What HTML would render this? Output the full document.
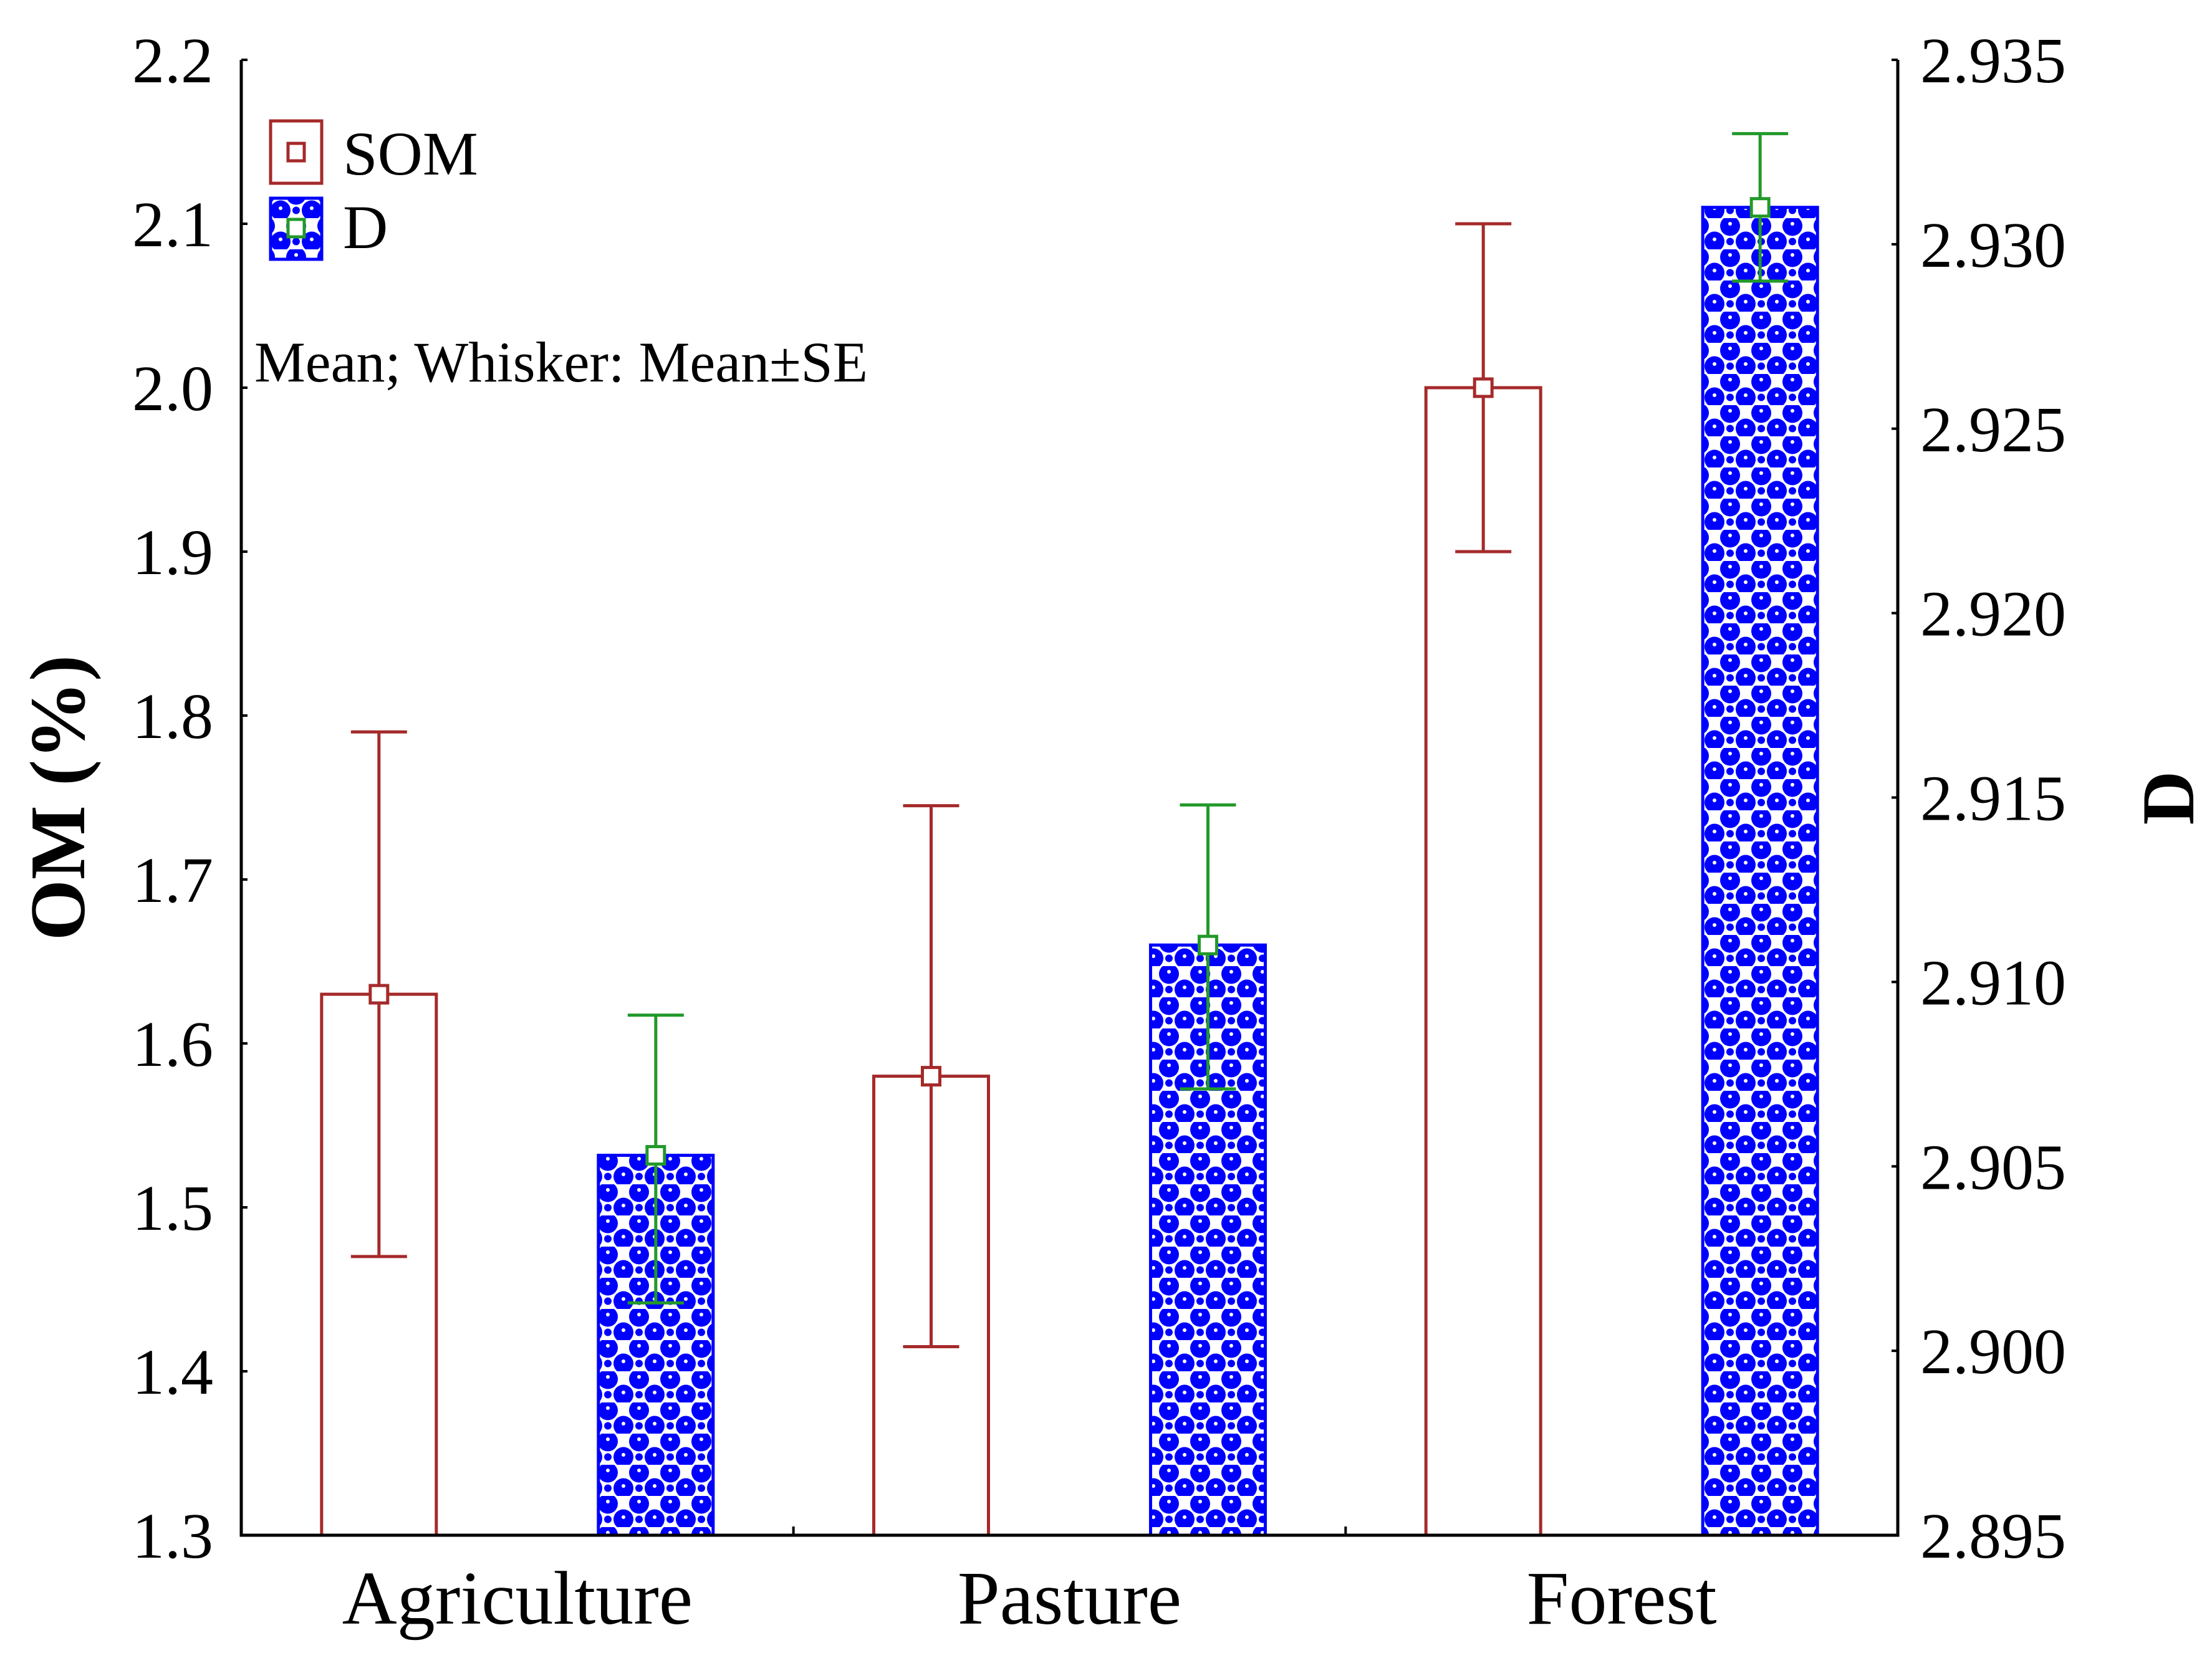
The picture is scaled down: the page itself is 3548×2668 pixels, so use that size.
<!DOCTYPE html>
<html><head><meta charset="utf-8"><style>
html,body{margin:0;padding:0;background:#fff;}
svg{display:block;}
text{font-family:"Liberation Serif",serif;fill:#000;}
</style></head><body>
<svg id="chart" width="3548" height="2668" viewBox="0 0 3548 2668" xmlns="http://www.w3.org/2000/svg">
<defs>
<pattern id="dots" patternUnits="userSpaceOnUse" width="50" height="50">
<rect width="50" height="50" fill="#fff"/>
<circle cx="25" cy="12.5" r="16" fill="#0000ff"/>
<circle cx="0" cy="37.5" r="16" fill="#0000ff"/>
<circle cx="50" cy="37.5" r="16" fill="#0000ff"/>
<circle cx="25" cy="37.5" r="6" fill="#0000ff"/>
<circle cx="25" cy="9" r="3" fill="#fff"/>
<circle cx="0" cy="34" r="3" fill="#fff"/>
<circle cx="50" cy="34" r="3" fill="#fff"/>
</pattern>
</defs>
<g id="plot"></g>
</svg>
<script>
const categories = ["Agriculture", "Pasture", "Forest"];
const somMean = [1.63, 1.58, 2.00];
const somHigh = [1.79, 1.745, 2.10];
const somLow = [1.47, 1.415, 1.90];
const dMean = [2.9053, 2.911, 2.931];
const dHigh = [2.9091, 2.9148, 2.9330];
const dLow = [2.9013, 2.9071, 2.9290];
const leftTicks = ["1.3","1.4","1.5","1.6","1.7","1.8","1.9","2.0","2.1","2.2"];
const rightTicks = ["2.895","2.900","2.905","2.910","2.915","2.920","2.925","2.930","2.935"];

const NS = "http://www.w3.org/2000/svg";
const L = 387, R = 3044, T = 96, B = 2463;
const yL = v => B - (v - 1.3) / 0.9 * (B - T);
const yR = v => B - (v - 2.895) / 0.04 * (B - T);
const catW = (R - L) / 3;
const xC = i => L + catW * (i + 0.5);
const g = document.getElementById('plot');
function el(tag, attrs, parent) {
  const e = document.createElementNS(NS, tag);
  for (const k in attrs) e.setAttribute(k, attrs[k]);
  (parent || g).appendChild(e);
  return e;
}
const BW = 184, OFF = 222, CAP = 90;

categories.forEach((c, i) => {
  const xs = xC(i) - OFF;
  const b1 = el('rect', {x: xs - BW/2, y: yL(somMean[i]), width: BW, height: B - yL(somMean[i]), fill: '#fff', stroke: '#a52a2a', 'stroke-width': 5});
  
  
  const xd = xC(i) + OFF;
  const b2 = el('rect', {x: xd - BW/2, y: yR(dMean[i]), width: BW, height: B - yR(dMean[i]), fill: 'url(#dots)', stroke: '#0000ff', 'stroke-width': 5});
  
  
  const w1 = el('path', {d: `M${xs},${yL(somHigh[i])}V${yL(somLow[i])}M${xs-CAP/2},${yL(somHigh[i])}H${xs+CAP/2}M${xs-CAP/2},${yL(somLow[i])}H${xs+CAP/2}`, stroke: '#a52a2a', 'stroke-width': 5, fill: 'none'});
  
  
  const m1 = el('rect', {x: xs - 14, y: yL(somMean[i]) - 14, width: 28, height: 28, fill: '#fff', stroke: '#a52a2a', 'stroke-width': 5});
  
  
  const w2 = el('path', {d: `M${xd},${yR(dHigh[i])}V${yR(dLow[i])}M${xd-CAP/2},${yR(dHigh[i])}H${xd+CAP/2}M${xd-CAP/2},${yR(dLow[i])}H${xd+CAP/2}`, stroke: '#22992a', 'stroke-width': 5, fill: 'none'});
  
  
  const m2 = el('rect', {x: xd - 14, y: yR(dMean[i]) - 14, width: 28, height: 28, fill: '#fff', stroke: '#22992a', 'stroke-width': 5});
  
  
  const t = el('text', {x: xC(i), y: 2605, 'font-size': 122, 'text-anchor': 'middle'});
  t.textContent = c;
  
  
  if (i > 0) {
    const tk = el('line', {x1: L + catW * i, x2: L + catW * i, y1: B, y2: B - 14, stroke: '#000', 'stroke-width': 4});
    
    
  }
});

const ax = el('path', {d: `M${L},${T}V${B}H${R}V${T}`, stroke: '#000', 'stroke-width': 5, fill: 'none'});



leftTicks.forEach(s => {
  const v = parseFloat(s), y = yL(v);
  const tk = el('line', {x1: L, x2: L + 10, y1: y, y2: y, stroke: '#000', 'stroke-width': 4});
  
  
  const t = el('text', {x: 342, y: y + 36, 'font-size': 104, 'text-anchor': 'end'});
  t.textContent = s;
  
  
});
rightTicks.forEach(s => {
  const v = parseFloat(s), y = yR(v);
  const tk = el('line', {x1: R, x2: R - 10, y1: y, y2: y, stroke: '#000', 'stroke-width': 4});
  
  
  const t = el('text', {x: 3080, y: y + 36, 'font-size': 104, 'text-anchor': 'start'});
  t.textContent = s;
  
  
});

const yt = el('text', {x: 0, y: 0, 'font-size': 126, 'font-weight': 'bold', 'text-anchor': 'middle', transform: 'translate(135,1280) rotate(-90)'});
yt.textContent = 'OM (%)';


const rt = el('text', {x: 0, y: 0, 'font-size': 120, 'font-weight': 'bold', 'text-anchor': 'middle', transform: 'translate(3518,1280) rotate(-90)'});
rt.textContent = 'D';



const lg = el('g', {});


const ls = el('rect', {x: 434, y: 194, width: 82, height: 100, fill: '#fff', stroke: '#a52a2a', 'stroke-width': 5}, lg);


el('rect', {x: 462, y: 230, width: 26, height: 28, fill: '#fff', stroke: '#a52a2a', 'stroke-width': 5}, lg);
const lt1 = el('text', {x: 550, y: 280, 'font-size': 100}, lg);
lt1.textContent = 'SOM';


const ld = el('rect', {x: 434, y: 318, width: 82, height: 98, fill: 'url(#dots)', stroke: '#0000ff', 'stroke-width': 5}, lg);


el('rect', {x: 462, y: 352, width: 26, height: 28, fill: '#fff', stroke: '#22992a', 'stroke-width': 5}, lg);
const lt2 = el('text', {x: 550, y: 398, 'font-size': 100}, lg);
lt2.textContent = 'D';


const note = el('text', {x: 408, y: 612, 'font-size': 92});
note.textContent = 'Mean; Whisker: Mean±SE';


</script>
</body></html>
